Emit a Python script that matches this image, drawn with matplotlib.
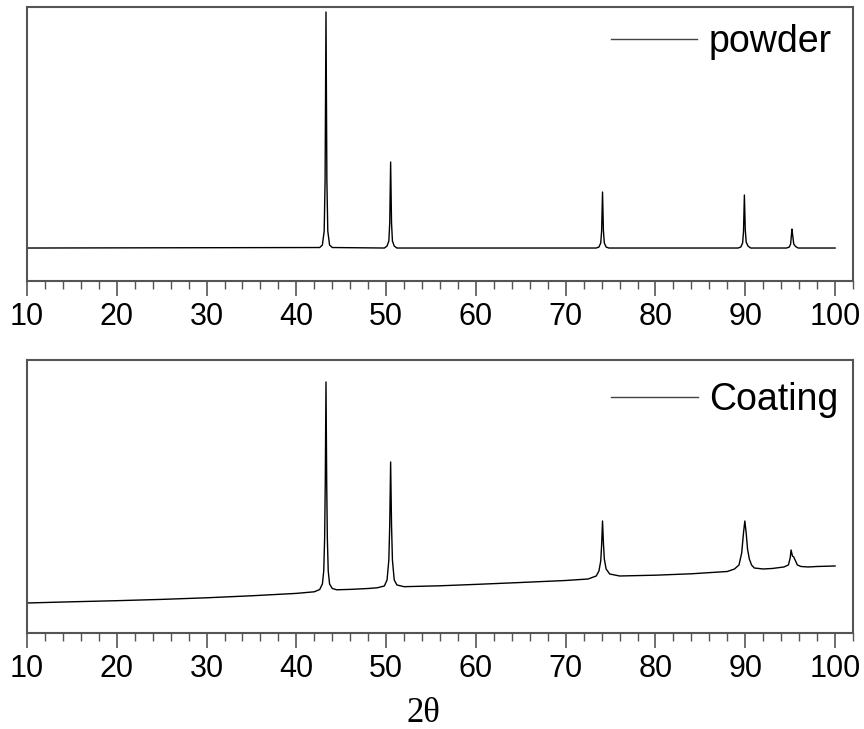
import matplotlib
matplotlib.use('Agg')
import matplotlib.pyplot as plt
from matplotlib.ticker import MultipleLocator

plt.rcParams['font.family'] = ['Liberation Sans', 'DejaVu Sans']

# powder pattern (2theta, intensity a.u.)
powder_x = [10, 42.6, 42.9, 43.1, 43.2, 43.3, 43.4, 43.5, 43.7, 44.0,
            49.8, 50.1, 50.3, 50.4, 50.5, 50.6, 50.7, 50.9, 51.2,
            73.4, 73.7, 73.9, 74.0, 74.1, 74.2, 74.3, 74.5, 74.8,
            89.2, 89.5, 89.7, 89.8, 89.9, 90.0, 90.1, 90.3, 90.6,
            94.6, 94.9, 95.05, 95.15, 95.2, 95.3, 95.4, 95.6, 95.9, 100]
powder_y = [33, 33.5, 36, 50, 100, 269, 100, 50, 36, 33.5,
            33, 35, 40, 58, 119, 58, 40, 35, 33,
            33, 34, 38, 50, 89, 50, 38, 34, 33,
            33, 34, 38, 49, 86, 51, 39, 35, 33,
            33, 34, 37, 47, 52, 44, 37, 34.5, 33, 33]

# coating pattern
coat_x = [10, 15, 20, 25, 30, 35, 40, 42.0, 42.6, 42.9, 43.05, 43.15, 43.22, 43.3,
          43.38, 43.45, 43.55, 43.7, 44.0, 44.5, 46, 48,
          49.0, 49.8, 50.1, 50.3, 50.4, 50.5, 50.6, 50.7, 50.9, 51.2, 52.0,
          56, 60, 65, 70, 72.5, 73.4, 73.7, 73.9, 74.0, 74.1, 74.2, 74.3, 74.5, 74.9,
          76, 80, 84, 88.0, 88.8, 89.3, 89.6, 89.8, 89.95, 90.1, 90.25, 90.45, 90.7,
          91.0, 92.0, 93, 94.3, 94.8, 95.0, 95.1, 95.25, 95.4, 95.55, 95.8, 96.2,
          97, 98, 100]
coat_y = [30, 31.2, 32.3, 33.6, 35.2, 37.2, 39.6, 41.2, 43.5, 49, 62, 95, 150, 251,
          150, 95, 62, 49, 44.5, 43.2, 43.6, 44.5,
          45.2, 47, 53, 73, 108, 171, 108, 73, 53, 48, 46.3,
          47.2, 48.6, 50.5, 52.5, 54, 57, 62, 72, 88, 112, 90, 74, 64, 59,
          57, 57.8, 59.2, 61.5, 64, 68, 80, 100, 112, 100, 84, 74, 68,
          65, 64, 64.5, 66, 68, 75, 83, 77, 76, 73, 68, 66.5,
          66, 66.5, 67]

fig = plt.figure(figsize=(8.64, 7.29), dpi=100)
ax1 = fig.add_axes([0.03125, 0.6145, 0.95605, 0.3759])
ax2 = fig.add_axes([0.03125, 0.1317, 0.95605, 0.3745])

spine_c = '#555555'
for ax, xs, ys, lab, top, anchor in [(ax1, powder_x, powder_y, 'powder', 274, (0.974, 0.872)),
                                     (ax2, coat_x, coat_y, 'Coating', 273, (0.982, 0.853))]:
    ax.plot(xs, ys, color='black', lw=1.0, label=lab)
    ax.set_xlim(10, 102)
    ax.set_ylim(0, top)
    ax.xaxis.set_major_locator(MultipleLocator(10))
    ax.xaxis.set_minor_locator(MultipleLocator(2))
    ax.tick_params(axis='x', which='major', direction='out', length=11, width=1.2,
                   color=spine_c, labelsize=22, pad=4)
    ax.tick_params(axis='x', which='minor', direction='out', length=6, width=1.0, color=spine_c)
    ax.set_yticks([])
    for s in ax.spines.values():
        s.set_color(spine_c)
        s.set_linewidth(1.5)
    leg = ax.legend(loc='center right', bbox_to_anchor=anchor, frameon=False,
                    fontsize=27, handlelength=2.3, handletextpad=0.3,
                    borderpad=0, borderaxespad=0)
    for h in leg.get_lines():
        h.set_color('#444444')

fig.text(0.49, 0.021, '2\u03b8', fontsize=25, family=['Liberation Serif', 'DejaVu Serif'],
         ha='center', va='center')

fig.savefig('out.png', dpi=100)
